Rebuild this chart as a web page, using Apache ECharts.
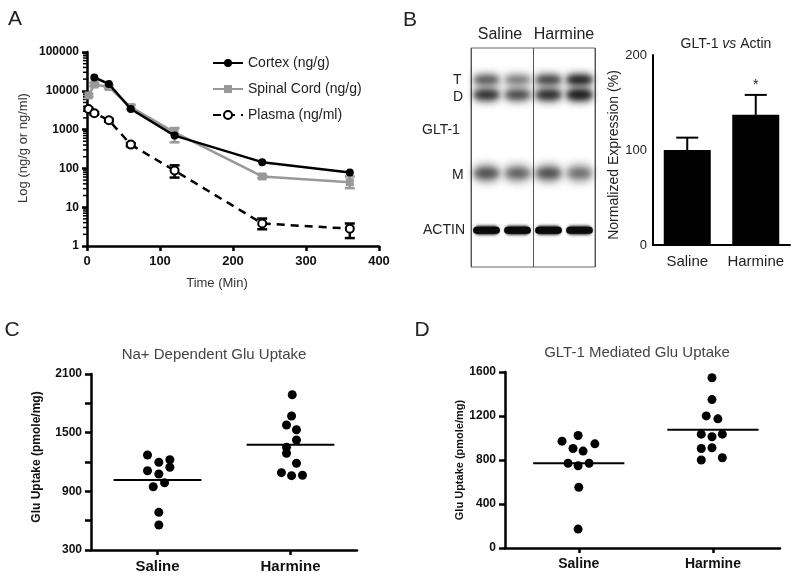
<!DOCTYPE html>
<html><head><meta charset="utf-8">
<script src="https://cdn.jsdelivr.net/npm/echarts@6/dist/echarts.min.js"></script>
<style>html,body{margin:0;padding:0;background:#fff}#c{width:800px;height:580px}</style>
</head><body><div id="c"></div>
<script>
// ---------- Panel A : pharmacokinetics ----------
const timeMin      = [2, 10, 30, 60, 120, 240, 360];
const cortexTime   = [10, 30, 60, 120, 240, 360];
const cortexVal    = [22000, 15000, 3400, 700, 145, 78];
const spinalVal    = [7600, 14500, 12500, 3800, 850, 62, 44];
const spinalLo     = [7000, 13200, 11500, 3400, 470, 56, 31];
const spinalHi     = [8300, 16000, 13800, 4300, 1100, 68, 62];
const plasmaVal    = [3400, 2650, 1750, 410, 88, 3.8, 2.8];
const plasmaLo     = [3200, 2450, 1600, 370, 58, 2.7, 1.6];
const plasmaHi     = [3650, 2850, 1900, 450, 120, 5.1, 3.8];
const seriesNames  = ['Cortex (ng/g)', 'Spinal Cord (ng/g)', 'Plasma (ng/ml)'];

// ---------- Panel B : western blot + quantification ----------
const blotLanes    = [0.5, 1.5, 2.5, 3.5];
const blotRowNames = ['T', 'D', 'M', 'ACTIN'];
const blotRowPos   = [14.5, 21.4, 57.2, 83.2];     // migration (% of gel height)
const bandT        = [0.70, 0.55, 0.80, 1.00];
const bandD        = [0.85, 0.72, 0.88, 1.00];
const bandM        = [0.68, 0.60, 0.68, 0.55];
const bandActin    = [1.00, 1.00, 1.00, 0.95];
const groups       = ['Saline', 'Harmine'];
const gltMean      = [100, 137];
const gltSem       = [13, 21];
const sigMarks     = ['', '*'];

// ---------- Panel C : Na+ dependent Glu uptake ----------
const naSaline     = [1272, 1223, 1197, 1146, 1111, 1077, 988, 947, 685, 556];
const naSalineJit  = [-0.075, 0.093, 0.01, 0.093, -0.075, 0.01, 0.053, -0.032, 0.01, 0.01];
const naHarmine    = [1888, 1670, 1578, 1530, 1425, 1350, 1289, 1187, 1091, 1060, 1064];
const naHarmineJit = [0.013, 0.008, -0.03, 0.045, 0.045, -0.03, -0.03, 0.045, -0.068, 0.008, 0.09];
const naMeans      = [1016, 1377];

// ---------- Panel D : GLT-1 mediated Glu uptake ----------
const gSaline      = [971, 1023, 905, 947, 881, 770, 748, 770, 552, 172];
const gSalineJit   = [-0.125, -0.005, -0.043, 0.12, 0.032, -0.08, -0.005, 0.077, 0, -0.005];
const gHarmine     = [1548, 1349, 1201, 1174, 1035, 1011, 1035, 905, 911, 800, 820];
const gHarmineJit  = [-0.007, -0.007, -0.05, 0.037, -0.087, -0.007, 0.07, -0.087, -0.007, -0.087, 0.07];
const gMeans       = [770, 1074];

// tick labels
const aYTicks = [1, 10, 100, 1000, 10000, 100000];
const cYLabels = [300, 900, 1500, 2100];

const FF = 'Liberation Sans, Arial, sans-serif';
const chart = echarts.init(document.getElementById('c'), null, {renderer: 'canvas'});

const zip = (xs, ys) => xs.map((x, i) => [x, ys[i]]);
const minorLog = [];
for (let k = 0; k < 5; k++) for (let m = 2; m <= 9; m++) minorLog.push([0, m * Math.pow(10, k)]);

function errRender(color, cap) {
  return function (params, api) {
    const x = api.value(0), lo = api.value(1), hi = api.value(2);
    const p1 = api.coord([x, lo]), p2 = api.coord([x, hi]);
    const st = {stroke: color, lineWidth: 2.5};
    return {type: 'group', children: [
      {type: 'line', shape: {x1: p1[0], y1: p1[1], x2: p2[0], y2: p2[1]}, style: st},
      {type: 'line', shape: {x1: p1[0] - cap, y1: p1[1], x2: p1[0] + cap, y2: p1[1]}, style: st},
      {type: 'line', shape: {x1: p2[0] - cap, y1: p2[1], x2: p2[0] + cap, y2: p2[1]}, style: st}
    ]};
  };
}
function meanRender(half) {
  return function (params, api) {
    const x = api.value(0), m = api.value(1);
    const a = api.coord([x - half, m]), b = api.coord([x + half, m]);
    return {type: 'line', shape: {x1: a[0], y1: a[1], x2: b[0], y2: b[1]}, style: {stroke: '#000', lineWidth: 2}};
  };
}
const bandData = [];
[bandT, bandD, bandM, bandActin].forEach((row, r) => row.forEach((v, l) => bandData.push([blotLanes[l], blotRowPos[r], v, r])));
const bandH = [10, 12, 15, 9], bandBlur = [8, 8, 10, 3];
function bandRender(params, api) {
  const c = api.coord([api.value(0), api.value(1)]);
  const inten = api.value(2), r = api.value(3);
  const w = api.size([0.8, 0])[0], h = bandH[r];
  const off = 3000;
  const kids = [
    {type: 'rect', shape: {x: c[0] - w / 2 - off, y: c[1] - h / 2, width: w, height: h, r: h / 2},
     style: {fill: '#000', shadowBlur: bandBlur[r], shadowColor: 'rgba(20,20,20,' + inten + ')', shadowOffsetX: off}}
  ];
  if (r === 3) {
    kids.push({type: 'rect', shape: {x: c[0] - w / 2 - 1, y: c[1] - h / 2 + 1, width: w + 2, height: h - 2, r: 4},
      style: {fill: 'rgba(10,10,10,' + inten + ')'}});
  } else {
    kids.push({type: 'rect', shape: {x: c[0] - w / 2 - off, y: c[1] - h / 4, width: w, height: h / 2, r: h / 4},
      style: {fill: '#000', shadowBlur: 5, shadowColor: 'rgba(20,20,20,' + (inten * inten * 0.7) + ')', shadowOffsetX: off}});
  }
  return {type: 'group', children: kids};
}

const axisLineBlack = w => ({show: true, onZero: false, lineStyle: {color: '#000', width: w}});
const lbl = (size, weight, extra) => Object.assign({color: '#111', fontSize: size, fontWeight: weight, fontFamily: FF}, extra || {});
const dot = {color: '#000', opacity: 1};

function gtext(x, y, text, size, opts) {
  opts = opts || {};
  return {type: 'text', x: x, y: y, rotation: opts.rot || 0, silent: true,
    style: Object.assign({text: text, fontSize: size, fontFamily: FF, fontWeight: opts.weight || 'normal',
      fill: opts.color || '#222', align: opts.align || 'center', verticalAlign: 'middle',
      textAlign: opts.align || 'center', textVerticalAlign: 'middle'}, opts.rich ? {rich: opts.rich} : {})};
}

const option = {
  animation: false,
  backgroundColor: '#fff',
  grid: [
    {left: 87, top: 52, width: 292, height: 194},            // A
    {left: 471, top: 48, width: 124, height: 219, show: true, borderColor: '#666', borderWidth: 1}, // blot
    {left: 653, top: 55, width: 137, height: 190},           // B bars
    {left: 91, top: 374, width: 266, height: 176},           // C
    {left: 505, top: 372, width: 275, height: 176}           // D
  ],
  legend: {
    data: seriesNames, orient: 'vertical', left: 207, top: 51, itemWidth: 30, itemHeight: 10, itemGap: 12,
    textStyle: {fontSize: 14, color: '#222', fontFamily: FF}
  },
  xAxis: [
    {gridIndex: 0, type: 'value', min: 0, max: 400, interval: 100, axisLine: axisLineBlack(2.5),
     axisTick: {length: 5, lineStyle: {width: 2.5, color: '#000'}}, splitLine: {show: false},
     axisLabel: lbl(13, 'bold', {margin: 9})},
    {gridIndex: 1, type: 'value', min: 0, max: 4, interval: 2, axisLine: {show: false}, axisTick: {show: false},
     axisLabel: {show: false}, splitLine: {show: true, lineStyle: {color: '#555', width: 1}}},
    {gridIndex: 2, type: 'category', data: groups, axisLine: axisLineBlack(2), axisTick: {show: false},
     axisLabel: lbl(15, 'normal', {margin: 9, color: '#222', interval: 0})},
    {gridIndex: 3, type: 'value', min: -0.5, max: 1.5, axisLine: axisLineBlack(2.5), splitLine: {show: false},
     axisTick: {customValues: [0, 1], length: 5, lineStyle: {width: 2.5, color: '#000'}},
     axisLabel: lbl(15, 'bold', {customValues: [0, 1], margin: 9, formatter: v => groups[Math.round(v)]})},
    {gridIndex: 4, type: 'value', min: -0.55, max: 1.5, axisLine: axisLineBlack(2.5), splitLine: {show: false},
     axisTick: {customValues: [0, 1], length: 5, lineStyle: {width: 2.5, color: '#000'}},
     axisLabel: lbl(14, 'bold', {customValues: [0, 1], margin: 9, formatter: v => groups[Math.round(v)]})}
  ],
  yAxis: [
    {gridIndex: 0, type: 'log', logBase: 10, min: 1, max: 100000, splitNumber: 5, axisLine: axisLineBlack(2.5),
     axisTick: {length: 5, lineStyle: {width: 2.5, color: '#000'}}, splitLine: {show: false},
     axisLabel: lbl(12, 'bold', {margin: 8, formatter: v => String(Math.round(v))})},
    {gridIndex: 1, type: 'value', min: 0, max: 100, inverse: true, show: false},
    {gridIndex: 2, type: 'value', min: 0, max: 200, interval: 50, axisLine: axisLineBlack(2), splitLine: {show: false},
     axisTick: {length: 4, lineStyle: {width: 2, color: '#000'}},
     axisLabel: lbl(13, 'normal', {margin: 6, color: '#222', formatter: v => (v % 100 === 0 ? String(v) : '')})},
    {gridIndex: 3, type: 'value', min: 300, max: 2100, interval: 300, axisLine: axisLineBlack(2.5), splitLine: {show: false},
     axisTick: {length: 6, lineStyle: {width: 2.5, color: '#000'}},
     axisLabel: lbl(12, 'bold', {margin: 9, formatter: v => (cYLabels.indexOf(v) >= 0 ? String(v) : '')})},
    {gridIndex: 4, type: 'value', min: 0, max: 1600, interval: 400, axisLine: axisLineBlack(2.5), splitLine: {show: false},
     axisTick: {length: 6, lineStyle: {width: 2.5, color: '#000'}},
     axisLabel: lbl(12, 'bold', {margin: 9, formatter: v => String(v)})}
  ],
  series: [
    // Panel A
    {type: 'custom', name: 'minor', xAxisIndex: 0, yAxisIndex: 0, data: minorLog, silent: true, z: 3,
     renderItem: (p, api) => { const c = api.coord([api.value(0), api.value(1)]);
       return {type: 'line', shape: {x1: c[0] - 4, y1: c[1], x2: c[0], y2: c[1]}, style: {stroke: '#000', lineWidth: 1.5}}; }},
    {type: 'custom', name: 'spErr', xAxisIndex: 0, yAxisIndex: 0, z: 2, silent: true,
     data: timeMin.map((t, i) => [t, spinalLo[i], spinalHi[i]]), renderItem: errRender('#999', 5)},
    {type: 'custom', name: 'plErr', xAxisIndex: 0, yAxisIndex: 0, z: 2, silent: true,
     data: timeMin.map((t, i) => [t, plasmaLo[i], plasmaHi[i]]), renderItem: errRender('#000', 5)},
    {type: 'line', name: seriesNames[0], xAxisIndex: 0, yAxisIndex: 0, data: zip(cortexTime, cortexVal), z: 5,
     symbol: 'circle', symbolSize: 8, itemStyle: {color: '#000'}, lineStyle: {color: '#000', width: 2.5}},
    {type: 'line', name: seriesNames[1], xAxisIndex: 0, yAxisIndex: 0, data: zip(timeMin, spinalVal), z: 4,
     symbol: 'rect', symbolSize: 8, itemStyle: {color: '#999'}, lineStyle: {color: '#999', width: 2.5}},
    {type: 'line', name: seriesNames[2], xAxisIndex: 0, yAxisIndex: 0, data: zip(timeMin, plasmaVal), z: 4,
     symbol: 'emptyCircle', symbolSize: 8, itemStyle: {color: '#000', borderWidth: 2},
     lineStyle: {color: '#000', width: 2.5, type: [8, 6]}},
    // Blot
    {type: 'custom', name: 'blot', xAxisIndex: 1, yAxisIndex: 1, data: bandData, silent: true, renderItem: bandRender},
    // Panel B bars
    {type: 'bar', name: 'GLT-1', xAxisIndex: 2, yAxisIndex: 2, data: gltMean, barWidth: 47, itemStyle: {color: '#000'}, z: 2},
    {type: 'custom', name: 'gltErr', xAxisIndex: 2, yAxisIndex: 2, silent: true, z: 3,
     data: gltMean.map((m, i) => [i, m, gltSem[i]]),
     renderItem: (p, api) => {
       const i = api.value(0), m = api.value(1), s = api.value(2);
       const a = api.coord([i, m]), b = api.coord([i, m + s]);
       const st = {stroke: '#000', lineWidth: 2};
       return {type: 'group', children: [
         {type: 'line', shape: {x1: a[0], y1: a[1], x2: b[0], y2: b[1]}, style: st},
         {type: 'line', shape: {x1: b[0] - 11, y1: b[1], x2: b[0] + 11, y2: b[1]}, style: st},
         {type: 'text', x: b[0], y: b[1] - 10, style: {text: sigMarks[i], fontSize: 14, fontFamily: FF, fill: '#222', align: 'center', verticalAlign: 'middle'}}
       ]};
     }},
    // Panel C
    {type: 'scatter', xAxisIndex: 3, yAxisIndex: 3, symbolSize: 9, itemStyle: dot,
     data: naSalineJit.map((j, i) => [0 + j, naSaline[i]])},
    {type: 'scatter', xAxisIndex: 3, yAxisIndex: 3, symbolSize: 9, itemStyle: dot,
     data: naHarmineJit.map((j, i) => [1 + j, naHarmine[i]])},
    {type: 'custom', xAxisIndex: 3, yAxisIndex: 3, silent: true, data: naMeans.map((m, i) => [i, m]), renderItem: meanRender(0.33)},
    // Panel D
    {type: 'scatter', xAxisIndex: 4, yAxisIndex: 4, symbolSize: 9, itemStyle: dot,
     data: gSalineJit.map((j, i) => [0 + j, gSaline[i]])},
    {type: 'scatter', xAxisIndex: 4, yAxisIndex: 4, symbolSize: 9, itemStyle: dot,
     data: gHarmineJit.map((j, i) => [1 + j, gHarmine[i]])},
    {type: 'custom', xAxisIndex: 4, yAxisIndex: 4, silent: true, data: gMeans.map((m, i) => [i, m]), renderItem: meanRender(0.34)}
  ],
  graphic: [
    gtext(15, 19, 'A', 21),
    gtext(410, 20, 'B', 21),
    gtext(12, 330, 'C', 21),
    gtext(422, 330, 'D', 21),
    gtext(217, 283, 'Time (Min)', 13, {color: '#333'}),
    gtext(23, 148, 'Log (ng/g or ng/ml)', 13, {rot: Math.PI / 2, color: '#333'}),
    gtext(500, 35, 'Saline', 16),
    gtext(564, 35, 'Harmine', 16),
    gtext(453, 80, 'T', 14, {align: 'left'}),
    gtext(453, 97, 'D', 14, {align: 'left'}),
    gtext(422, 130, 'GLT-1', 14, {align: 'left'}),
    gtext(452, 175, 'M', 14, {align: 'left'}),
    gtext(423, 230, 'ACTIN', 14, {align: 'left'}),
    gtext(726, 44, 'GLT-1 {i|vs} Actin', 14, {rich: {i: {fontStyle: 'italic', fontSize: 14, fontFamily: FF}}}),
    gtext(614, 155, 'Normalized Expression (%)', 14, {rot: Math.PI / 2}),
    gtext(214, 355, 'Na+ Dependent Glu Uptake', 15, {color: '#444'}),
    gtext(637, 353, 'GLT-1 Mediated Glu Uptake', 15, {color: '#444'}),
    gtext(37, 457, 'Glu Uptake (pmole/mg)', 12, {rot: Math.PI / 2, weight: 'bold', color: '#111'}),
    gtext(460, 460, 'Glu Uptake (pmole/mg)', 11, {rot: Math.PI / 2, weight: 'bold', color: '#111'})
  ]
};
chart.setOption(option);
</script>
</body></html>
